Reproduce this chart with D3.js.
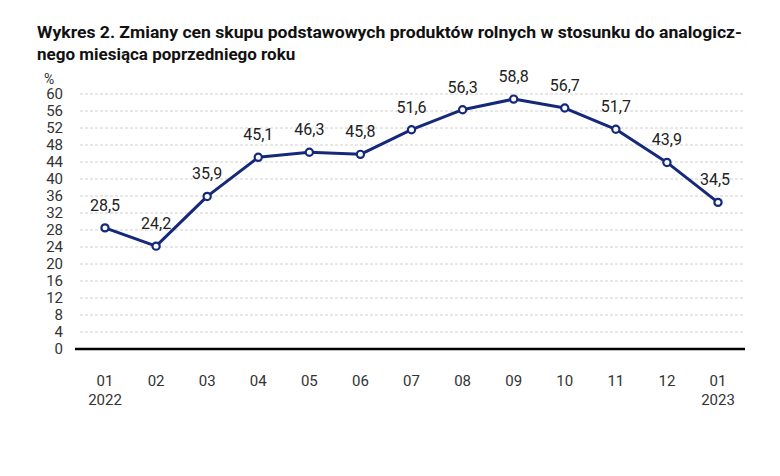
<html>
<head>
<meta charset="utf-8">
<title>Wykres 2</title>
<script src="https://cdn.jsdelivr.net/npm/d3@7"></script>
<style>
  body { margin: 0; background: #fff; }
  text { font-family: "Liberation Sans Narrow", "Roboto", sans-serif; }
</style>
</head>
<body>
<svg id="chart" width="780" height="476"></svg>
<script>
var months = ["01", "02", "03", "04", "05", "06", "07", "08", "09", "10", "11", "12", "01"];
var years = ["2022", "", "", "", "", "", "", "", "", "", "", "", "2023"];
var values = [28.5, 24.2, 35.9, 45.1, 46.3, 45.8, 51.6, 56.3, 58.8, 56.7, 51.7, 43.9, 34.5];
var yTicks = d3.range(0, 61, 4);

var svg = d3.select("#chart"),
    mLeft = 80, mRight = 745, mTop = 94, mBottom = 349;

svg.append("text")
    .attr("x", 37).attr("y", 38)
    .attr("font-size", 17).attr("font-weight", "bold").attr("fill", "#111")
    .attr("textLength", 705).attr("lengthAdjust", "spacingAndGlyphs")
    .text("Wykres 2. Zmiany cen skupu podstawowych produktów rolnych w stosunku do analogicz-");
svg.append("text")
    .attr("x", 37).attr("y", 60)
    .attr("font-size", 17).attr("font-weight", "bold").attr("fill", "#111")
    .text("nego miesiąca poprzedniego roku");

var x = d3.scalePoint().domain(d3.range(values.length)).range([105, 718]);
var y = d3.scaleLinear().domain([0, 60]).range([mBottom, mTop]);

// grid
svg.append("g").selectAll("line")
  .data(yTicks.filter(function(d) { return d > 0; }))
  .enter().append("line")
    .attr("x1", mLeft).attr("x2", mRight)
    .attr("y1", function(d) { return y(d); }).attr("y2", function(d) { return y(d); })
    .attr("stroke", "#d0d0d0").attr("stroke-dasharray", "3,2");

// y labels
svg.append("g").selectAll("text")
  .data(yTicks)
  .enter().append("text")
    .attr("x", 63).attr("y", function(d) { return y(d) + 5; })
    .attr("text-anchor", "end").attr("font-size", 15).attr("fill", "#333")
    .text(function(d) { return d; });
svg.append("text").attr("x", 44).attr("y", 84).attr("font-size", 14).attr("fill", "#333").text("%");

// axis line
svg.append("line")
    .attr("x1", 75).attr("x2", mRight).attr("y1", y(0)).attr("y2", y(0))
    .attr("stroke", "#000").attr("stroke-width", 2.5);

// x labels
var xl = svg.append("g").selectAll("g").data(months).enter().append("g");
xl.append("text")
    .attr("x", function(d, i) { return x(i); }).attr("y", 386)
    .attr("text-anchor", "middle").attr("font-size", 15).attr("fill", "#333")
    .text(function(d) { return d; });
xl.append("text")
    .attr("x", function(d, i) { return x(i); }).attr("y", 405)
    .attr("text-anchor", "middle").attr("font-size", 15).attr("fill", "#333")
    .text(function(d, i) { return years[i]; });

// line
var navy = "#15297a";
svg.append("path")
    .datum(values)
    .attr("fill", "none").attr("stroke", navy).attr("stroke-width", 3)
    .attr("stroke-linejoin", "round")
    .attr("d", d3.line().x(function(d, i) { return x(i); }).y(function(d) { return y(d); }));

svg.append("g").selectAll("circle")
  .data(values).enter().append("circle")
    .attr("cx", function(d, i) { return x(i); }).attr("cy", function(d) { return y(d); })
    .attr("r", 3.6).attr("fill", "#fff").attr("stroke", navy).attr("stroke-width", 2.2);

svg.append("g").selectAll("text")
  .data(values).enter().append("text")
    .attr("x", function(d, i) { return x(i) - (i == values.length - 1 ? 3 : 0); })
    .attr("y", function(d) { return y(d) - 17; })
    .attr("text-anchor", "middle").attr("font-size", 16).attr("fill", "#222")
    .text(function(d) { return String(d).replace(".", ","); });
</script>
</body>
</html>
